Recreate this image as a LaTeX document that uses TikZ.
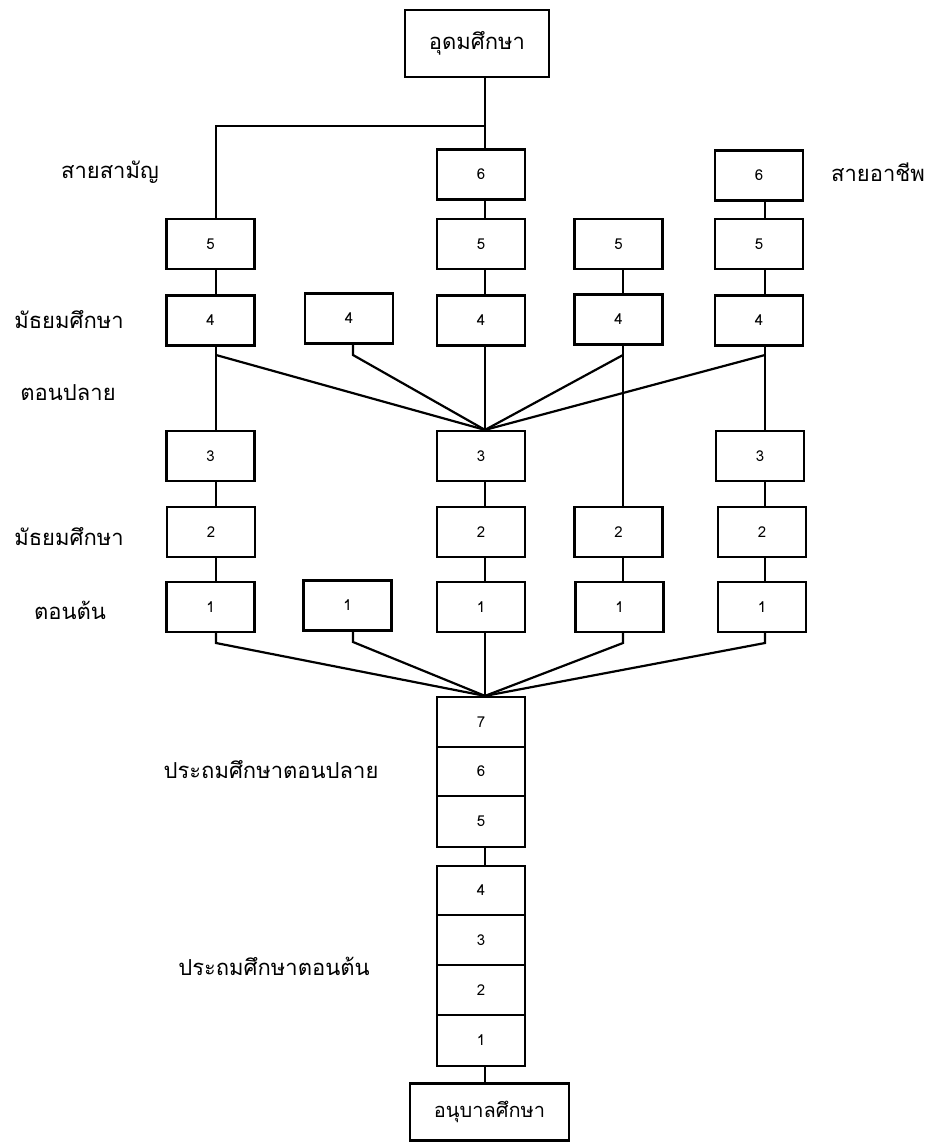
\documentclass[tikz,border=0pt]{standalone}
\usepackage{fontspec}
\newfontfamily\thaifont[Script=Thai]{Loma}
\begin{document}
\begin{tikzpicture}[x=1pt,y=-1pt,
  box/.style={draw, line width=2.2pt, minimum width=88pt, minimum height=50pt, inner sep=0pt, font=\thaifont\fontsize{15}{15}\selectfont},
  lbl/.style={font=\thaifont\fontsize{22}{24}\selectfont, inner sep=0pt},
  conn/.style={line width=2.2pt}]
\useasboundingbox (0,0) rectangle (927,1142);
% column line x positions
\coordinate (c1) at (216,0);
\coordinate (c2) at (353,0);
\coordinate (c3) at (485,0);
\coordinate (c4) at (623,0);
\coordinate (c5) at (765,0);
\coordinate (j1) at (216,126);
\coordinate (m1) at (485,431);
\coordinate (m2) at (485,697);

\node[box, minimum width=144pt, minimum height=67pt, font=\thaifont\fontsize{22}{24}\selectfont] (top) at (477,43.5) {อุดมศึกษา};

% row 6
\node[box] (s6c3) at (481,174.5) {6};
\node[box] (s6c5) at (759,175.5) {6};
% row 5
\node[box] (s5c1) at (210.5,244) {5};
\node[box] (s5c3) at (481,244) {5};
\node[box] (s5c4) at (618.5,244) {5};
\node[box] (s5c5) at (759,244) {5};
% row 4
\node[box] (s4c1) at (210.5,320.5) {4};
\node[box] (s4c2) at (349,318.5) {4};
\node[box] (s4c3) at (481,320.5) {4};
\node[box] (s4c4) at (618.5,319.5) {4};
\node[box] (s4c5) at (759,320.5) {4};
% row 3
\node[box] (s3c1) at (210.5,456) {3};
\node[box] (s3c3) at (481,456) {3};
\node[box] (s3c5) at (760,456) {3};
% row 2
\node[box] (s2c1) at (211,532) {2};
\node[box] (s2c3) at (481,532) {2};
\node[box] (s2c4) at (618.5,532) {2};
\node[box] (s2c5) at (762,532) {2};
% row 1
\node[box] (s1c1) at (210.5,607) {1};
\node[box] (s1c2) at (347.5,605.5) {1};
\node[box] (s1c3) at (481,607) {1};
\node[box] (s1c4) at (619.5,607) {1};
\node[box] (s1c5) at (762,607) {1};

% primary stack
\node[box, minimum height=50pt] (p7) at (481,722) {7};
\node[box, minimum height=49pt] (p6) at (481,771.5) {6};
\node[box, minimum height=51pt] (p5) at (481,821.5) {5};
\node[box, minimum height=49pt] (p4) at (481,890.5) {4};
\node[box, minimum height=50pt] (p3) at (481,940) {3};
\node[box, minimum height=50pt] (p2) at (481,990) {2};
\node[box, minimum height=51pt] (p1) at (481,1040.5) {1};

\node[box, minimum width=159pt, minimum height=57pt, font=\thaifont\fontsize{20}{22}\selectfont] (kg) at (489.5,1112) {อนุบาลศึกษา};

% labels
\node[lbl] (l1) at (110,172) {สายสามัญ};
\node[lbl] (l2) at (878,172) {สายอาชีพ};
\node[lbl] (l3) at (69,320) {มัธยมศึกษา};
\node[lbl] (l4) at (68,393) {ตอนปลาย};
\node[lbl] (l5) at (69,537) {มัธยมศึกษา};
\node[lbl] (l6) at (70,610) {ตอนต้น};
\node[lbl] (l7) at (271,770) {ประถมศึกษาตอนปลาย};
\node[lbl] (l8) at (274,966) {ประถมศึกษาตอนต้น};

% connectors top
\draw[conn] (top.south -| c3) -- (s6c3.north -| c3);
\draw[conn] (top.south |- j1) ++(8,0) -- (j1) -- (s5c1.north -| c1);
\draw[conn] (s6c3.south -| c3) -- (s5c3.north -| c3);
\draw[conn] (s6c5.south -| c5) -- (s5c5.north -| c5);
\draw[conn] (s5c1.south -| c1) -- (s4c1.north -| c1);
\draw[conn] (s5c3.south -| c3) -- (s4c3.north -| c3);
\draw[conn] (s5c4.south -| c4) -- (s4c4.north -| c4);
\draw[conn] (s5c5.south -| c5) -- (s4c5.north -| c5);

% upper secondary to lower secondary
\draw[conn] (s4c1.south -| c1) -- (s3c1.north -| c1);
\draw[conn] (s4c3.south -| c3) -- (s3c3.north -| c3);
\draw[conn] (s4c5.south -| c5) -- (s3c5.north -| c5);
\draw[conn] (s4c4.south -| c4) -- (s2c4.north -| c4);
\draw[conn] (216,355) -- (s3c3.north -| m1);
\draw[conn] (s4c2.south -| c2) -- (353,355) -- (s3c3.north -| m1);
\draw[conn] (623,355) -- (s3c3.north -| m1);
\draw[conn] (765,355) -- (s3c3.north -| m1);

% lower secondary chain
\draw[conn] (s3c1.south -| c1) -- (s2c1.north -| c1);
\draw[conn] (s3c3.south -| c3) -- (s2c3.north -| c3);
\draw[conn] (s3c5.south -| c5) -- (s2c5.north -| c5);
\draw[conn] (s2c1.south -| c1) -- (s1c1.north -| c1);
\draw[conn] (s2c3.south -| c3) -- (s1c3.north -| c3);
\draw[conn] (s2c4.south -| c4) -- (s1c4.north -| c4);
\draw[conn] (s2c5.south -| c5) -- (s1c5.north -| c5);

% to primary
\draw[conn] (s1c3.south -| c3) -- (p7.north -| m2);
\draw[conn] (s1c1.south -| c1) -- (216,643) -- (p7.north -| m2);
\draw[conn] (s1c2.south -| c2) -- (353,642) -- (p7.north -| m2);
\draw[conn] (s1c4.south -| c4) -- (623,643) -- (p7.north -| m2);
\draw[conn] (s1c5.south -| c5) -- (765,643) -- (p7.north -| m2);

\draw[conn] (p5.south -| c3) -- (p4.north -| c3);
\draw[conn] (p1.south -| c3) -- (kg.north -| c3);
\end{tikzpicture}
\end{document}
